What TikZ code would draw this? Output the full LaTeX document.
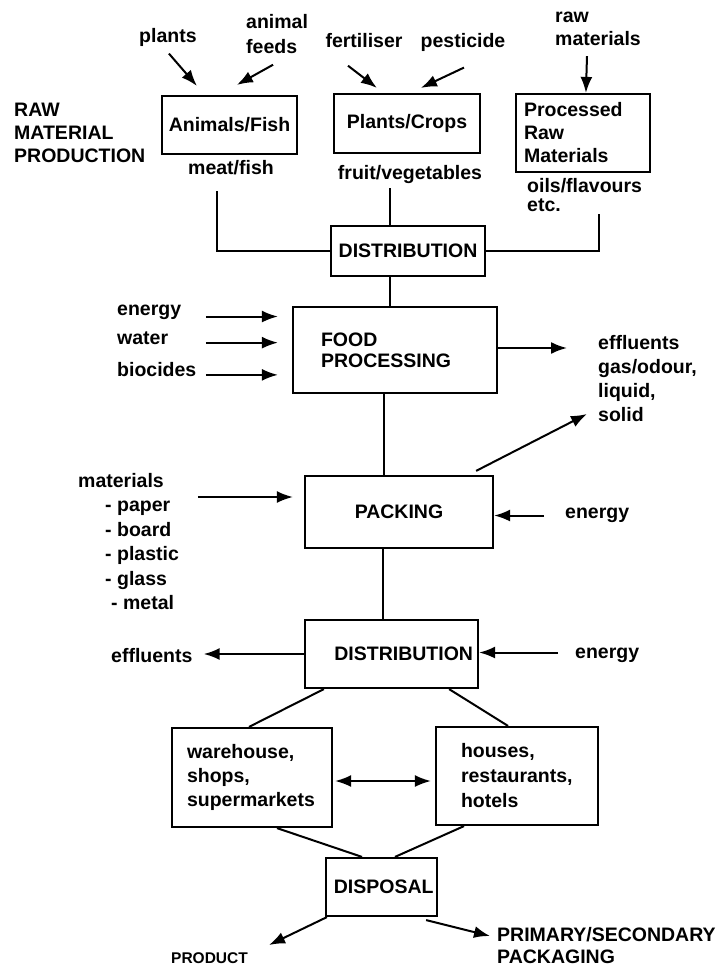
\documentclass[tikz,border=0pt]{standalone}
\usepackage{fontspec}
\setmainfont{Liberation Sans}
\usepackage{tikz}
\usetikzlibrary{arrows.meta,calc}
\hyphenpenalty=10000
\tikzstyle{stagebox} = [draw=black, line width=2.2pt, rectangle, inner sep=0pt]
\tikzstyle{lbl} = [inner sep=0pt, align=left]
\tikzstyle{flow} = [line width=2pt, -{Latex[length=16pt,width=12pt]}]
\tikzstyle{twoway} = [line width=2pt, {Latex[length=16pt,width=12pt]}-{Latex[length=16pt,width=12pt]}]
\tikzstyle{link} = [line width=2pt]

\begin{document}
\begin{tikzpicture}[x=1pt, y=-1pt, every node/.style={font=\fontsize{19.5}{24}\selectfont\bfseries}]
\useasboundingbox (0,0) rectangle (720,969);

% raw material production
\node[lbl, anchor=north west] (rawprod) at (14,103) {RAW\\[-1pt]MATERIAL\\[-1pt]PRODUCTION};
\node[stagebox, minimum width=135, minimum height=58] (anim) at (229.5,125) {Animals/Fish};
\node[stagebox, minimum width=146, minimum height=59] (crops) at (407,123.5) {Plants/Crops};
\node[stagebox, minimum width=134, minimum height=78, text width=118, align=left] (procraw) at (583,133) {Processed\\[-1pt]Raw\\[-1pt]Materials};

\node[lbl, anchor=north west] (plants) at (139,28) {plants};
\node[lbl, anchor=north west] (feeds) at (246,14) {animal\\[1pt]feeds};
\node[lbl, anchor=north] (fert) at (364,33) {fertiliser};
\node[lbl, anchor=north] (pest) at (463,33) {pesticide};
\node[lbl, anchor=north west] (rawmat) at (555,12) {raw\\[-1pt]materials};
\node[lbl, anchor=north] (meat) at (231,160) {meat/fish};
\node[lbl, anchor=north] (fruit) at (410,165) {fruit/vegetables};
\node[lbl, anchor=north west] (oils) at (527,178) {oils/flavours\\[-5pt]etc.};

\draw[flow] ($(plants.south)+(1,7)$) -- ($(anim.north west)+(36,-9)$);
\draw[flow] ($(feeds.south)+(-4,11)$) -- ($(anim.north west)+(76,-10)$);
\draw[flow] ($(fert.south)+(-16,18)$) -- ($(crops.north west)+(44,-5)$);
\draw[flow] ($(pest.south)+(1,16)$) -- ($(crops.north west)+(88,-5)$);
\draw[flow] ($(rawmat.south west)+(32,10)$) -- ($(procraw.north west)+(71,0)$);

% first distribution
\node[stagebox, minimum width=154, minimum height=50] (dist1) at (408,251) {DISTRIBUTION};
\draw[link] ($(anim.south)+(-13,36)$) |- (dist1.west);
\draw[link] ($(crops.south)+(-17,34)$) coordinate (c1) -- (c1 |- dist1.north);
\draw[link] ($(procraw.south)+(16,41)$) |- (dist1.east);

% processing
\node[stagebox, minimum width=204, minimum height=86, text width=148, align=left] (food) at (395,350) {FOOD\\[-3pt]PROCESSING};
\draw[link] ($(dist1.south)+(-18,0)$) coordinate (d1) -- (d1 |- food.north);

\node[lbl, anchor=north west] (energyA) at (117,305) {energy};
\node[lbl, anchor=north west] (water) at (117,332) {water};
\node[lbl, anchor=north west] (biocides) at (117,362) {biocides};
\draw[flow] ($(energyA.east -| food.west)+(-86,4)$) -- ($(energyA.east -| food.west)+(-14,4)$);
\draw[flow] ($(water.east -| food.west)+(-86,4)$) -- ($(water.east -| food.west)+(-14,4)$);
\draw[flow] ($(biocides.east -| food.west)+(-86,5.5)$) -- ($(biocides.east -| food.west)+(-14,5.5)$);

\node[lbl, anchor=north west] (effl1) at (598,335) {effluents\\gas/odour,\\liquid,\\solid};
\draw[flow] ($(food.east)+(0,-2)$) -- ($(effl1.north west |- food.east)+(-31,-2)$);

% packing
\node[stagebox, minimum width=188, minimum height=72] (pack) at (399,512) {PACKING};
\draw[link] ($(food.south)+(-11,0)$) coordinate (f1) -- (f1 |- pack.north);
\draw[flow] ($(pack.north east)+(-18,-4)$) -- ($(effl1.north west)+(-11,79)$);

\node[lbl, anchor=north west] (mats) at (78,473) {materials\\[0.5pt]\hspace*{27pt}- paper\\[0.5pt]\hspace*{27pt}- board\\[0.5pt]\hspace*{27pt}- plastic\\[0.5pt]\hspace*{27pt}- glass\\[0.5pt]\hspace*{33pt}- metal};
\draw[flow] ($(pack.west)+(-106,-15)$) -- ($(pack.west)+(-11,-15)$);

\node[lbl, anchor=north west] (energyB) at (565,508) {energy};
\draw[flow] ($(energyB.west)+(-21,0)$) -- (energyB.west -| pack.east);

% second distribution
\node[stagebox, minimum width=173, minimum height=68, text width=163, align=right] (dist2) at (391.5,654) {DISTRIBUTION};
\draw[link] ($(pack.south)+(-16,0)$) coordinate (p1) -- (p1 |- dist2.north);

\node[lbl, anchor=north west] (effl2) at (111,648) {effluents};
\node[lbl, anchor=north west] (energyC) at (575,648) {energy};
\draw[flow] (dist2.west) -- ($(effl2.east |- dist2.west)+(11,0)$);
\draw[flow] ($(energyC.west)+(-17,-3)$) -- ($(energyC.west -| dist2.east)+(0,-3)$);

% outlets
\node[stagebox, minimum width=160, minimum height=99, text width=130, align=left] (wh) at (252,777.5) {warehouse,\\shops,\\supermarkets};
\node[stagebox, minimum width=162, minimum height=98, text width=112, align=left] (hs) at (517,776) {houses,\\[1pt]restaurants,\\[1pt]hotels};
\draw[link] ($(dist2.south west)+(20,0)$) -- ($(wh.north)+(-3,0)$);
\draw[link] ($(dist2.south east)+(-30,0)$) -- ($(hs.north)+(-9,0)$);
\draw[twoway] ($(wh.east)+(2,3.5)$) -- ($(wh.east -| hs.west)+(-4,3.5)$);

% disposal
\node[stagebox, minimum width=111, minimum height=58, text width=104, align=right] (disp) at (381.5,887) {DISPOSAL};
\draw[link] ($(wh.south)+(25,0)$) -- ($(disp.north)+(-19.5,0)$);
\draw[link] ($(hs.south)+(-53,0)$) -- ($(disp.north)+(13.5,0)$);

\node[lbl, anchor=north west, font=\fontsize{15.5}{18}\selectfont\bfseries] (product) at (171,952) {PRODUCT};
\node[lbl, anchor=north west] (primsec) at (497,927) {PRIMARY/SECONDARY\\[-2pt]PACKAGING};
\draw[flow] ($(disp.south west)+(2,0)$) -- ($(product.north east)+(21,-7)$);
\draw[flow] ($(disp.south east)+(-12,3)$) -- ($(primsec.north west)+(-7,9)$);
\end{tikzpicture}
\end{document}
